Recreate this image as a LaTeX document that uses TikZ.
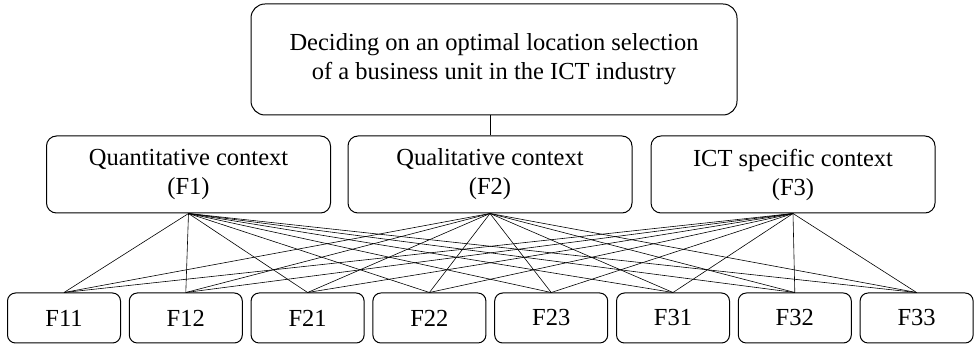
\documentclass[tikz,border=0pt]{standalone}
\usepackage{fontspec}
\setmainfont{Liberation Serif}
\begin{document}
\begin{tikzpicture}[x=1pt,y=-1pt,
  box/.style={draw, rounded corners=10pt, line width=1pt, inner sep=0pt, align=center,
    font=\fontsize{24.5}{29}\selectfont},
  midbox/.style={box, minimum width=284pt, minimum height=77pt},
  leafbox/.style={box, rounded corners=8pt, minimum width=113pt, minimum height=50pt},
  link/.style={line width=0.6pt}]
\useasboundingbox (0,0) rectangle (974,344);
\node[box, rounded corners=14pt, minimum width=486pt, minimum height=111pt] (top) at (494,59.5)
  {Deciding on an optimal location selection\\of a business unit in the ICT industry};
\node[midbox] (F1) at (188.5,174.5) {Quantitative context\\(F1)};
\node[midbox] (F2) at (490,174.5) {Qualitative context\\(F2)};
\node[midbox] (F3) at (793,174.5) {ICT specific context\\(F3)};
\foreach \t [count=\i from 0] in {F11,F12,F21,F22,F23,F31,F32,F33}
  \node[leafbox] (\t) at ({64+\i*121.8},318) {\t};
\draw[link] (F2.north) -- (F2.north |- top.south);
\foreach \m in {F1,F2,F3}
  \foreach \t in {F11,F12,F21,F22,F23,F31,F32,F33}
    \draw[link] (\m.south) -- (\t.north);
\end{tikzpicture}
\end{document}
